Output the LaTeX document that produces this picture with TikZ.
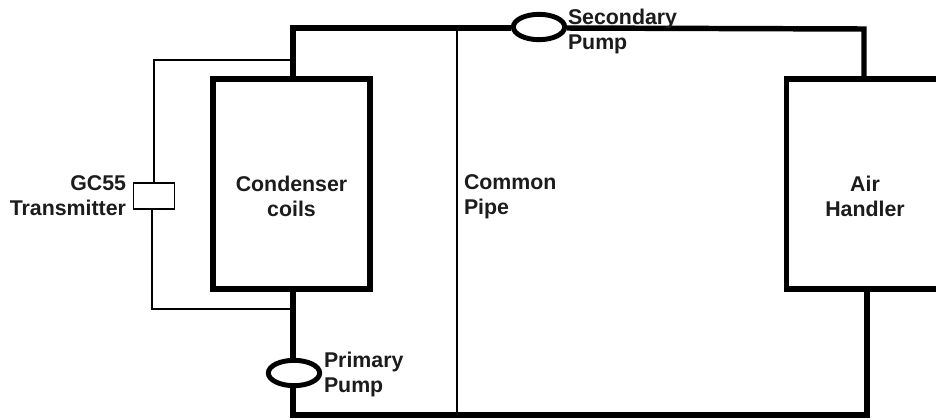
\documentclass[tikz,border=0pt]{standalone}
\usepackage{fontspec}
\setmainfont{Liberation Sans}
\usepackage{xcolor}
\usepackage{tikz}
\usetikzlibrary{positioning, shapes.geometric}
\definecolor{labelblack}{RGB}{28, 28, 28}
\tikzset{
    pipe/.style={line width=4.1pt, line join=miter},
    wire/.style={line width=1pt},
    coilbox/.style={draw, line width=4.1pt, minimum width=117.75pt, minimum height=157.5pt, inner sep=0pt},
    pumpring/.style={draw, ellipse, line width=3.7pt, minimum width=38.5pt, minimum height=19pt, inner sep=0pt, fill=white},
    tagtext/.style={inner sep=0pt, outer sep=0pt, text=labelblack, font=\bfseries\fontsize{16}{18.75}\selectfont},
    xmtrbox/.style={draw, line width=1pt, minimum width=31pt, minimum height=19.5pt, inner sep=0pt, fill=white}
}

\begin{document}
\begin{tikzpicture}[x=0.75pt, y=-0.75pt]
        \path[use as bounding box, clip] (0,0) rectangle (936,419);
        \fill[white] (0,0) rectangle (936,419);

        \node[coilbox] (condenser) at (291.5,184) {};
        \node[coilbox] (handler) at (865,184) {};
        \node[xmtrbox] (xmtr) at (154,196) {};
        \node[pumpring] (primpump) at (294,373) {};
        \node[pumpring] (secpump) at (539,27) {};

        \coordinate (topleft) at (293,28);
        \coordinate (topright) at (864,29);
        \coordinate (botleft) at (293,415);
        \coordinate (botright) at (867,415);
        \coordinate (wiretop) at (154,60);
        \coordinate (wirebot) at (152,309);
        \coordinate (commontop) at (457,28);
        \coordinate (commonbot) at (457,415);

        \draw[pipe] (topleft |- condenser.north) -- (topleft) -- (secpump.west |- topleft);
        \draw[pipe] (secpump.east |- topleft) -- (topright) -- (topright |- handler.north);
        \draw[pipe] (botright |- handler.south) -- (botright) -- (botleft) -- (primpump.south -| botleft);
        \draw[pipe] (primpump.north -| botleft) -- (botleft |- condenser.south);
        \draw[wire] (commontop) -- (commonbot);
        \draw[wire] (xmtr.north) -- (wiretop) -- (wiretop -| topleft);
        \draw[wire] (xmtr.south -| wirebot) -- (wirebot) -- (wirebot -| topleft);

        \node[tagtext, align=center] (condensertag) at (291.5,196) {Condenser\\coils};
        \node[tagtext, align=center] (handlertag) at (865,196) {Air\\Handler};
        \node[tagtext, align=right, left=5pt of xmtr.west, anchor=east] (xmtrtag) {GC55\\Transmitter};
        \node[tagtext, align=left, anchor=west] (commontag) at (464,197) {Common\\Pipe};
        \node[tagtext, align=left, anchor=west] (primtag) at (324,374) {Primary\\Pump};
        \node[tagtext, align=left, anchor=west] (sectag) at (568,31) {Secondary\\Pump};
    \end{tikzpicture}
\end{document}
